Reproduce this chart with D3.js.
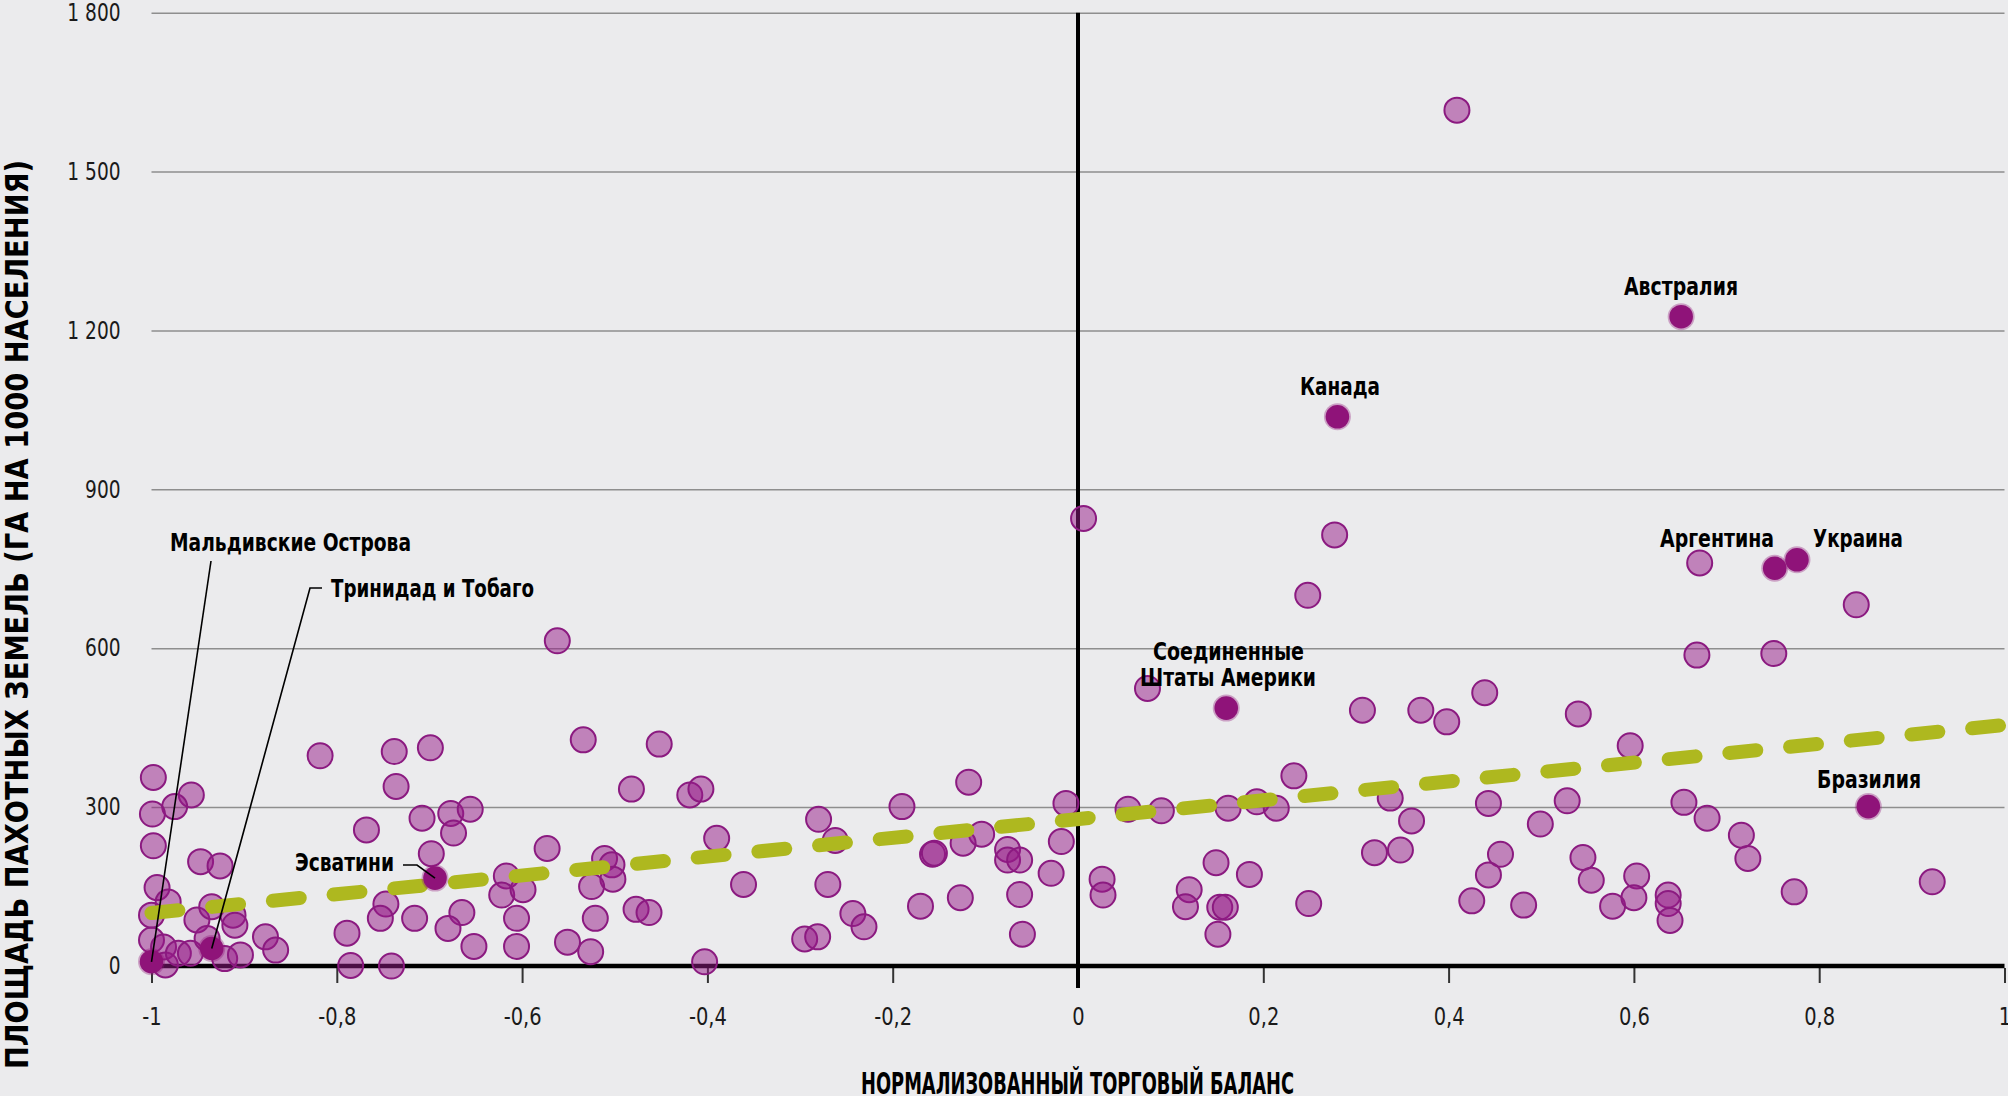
<!DOCTYPE html>
<html>
<head>
<meta charset="utf-8">
<script src="https://cdn.jsdelivr.net/npm/d3@7"></script>
<style>
  html, body { margin: 0; padding: 0; background: #ebebed; }
  svg { display: block; }
</style>
</head>
<body>
<svg id="chart" width="2008" height="1096"></svg>
<script>
// ---- data ----
const xTicks = [-1, -0.8, -0.6, -0.4, -0.2, 0, 0.2, 0.4, 0.6, 0.8, 1];
const yTicks = [0, 300, 600, 900, 1200, 1500, 1800];
const yTickLabels = ["0", "300", "600", "900", "1\u00A0200", "1\u00A0500", "1\u00A0800"];

const pointX = [
  -0.998, -0.957, -0.975, -0.999, -0.998, -0.947, -0.926, -0.994, -0.982, -1.0,
  -0.951, -0.935, -0.912, -0.910, -1.0, -0.987, -0.985, -0.971, -0.958, -0.940,
  -0.921, -0.904, -0.877, -0.866, -0.818, -0.738, -0.699, -0.736, -0.768, -0.708,
  -0.677, -0.656, -0.674, -0.698, -0.617, -0.622, -0.747, -0.753, -0.716, -0.665,
  -0.680, -0.652, -0.789, -0.785, -0.741, -0.562, -0.534, -0.452, -0.482, -0.419,
  -0.407, -0.573, -0.511, -0.503, -0.502, -0.525, -0.599, -0.606, -0.606, -0.521,
  -0.551, -0.526, -0.477, -0.463, -0.390, -0.403, -0.361, -0.280, -0.262, -0.270,
  -0.243, -0.231, -0.295, -0.281, -0.190, -0.118, -0.013, -0.104, -0.124, -0.157,
  -0.155, -0.076, -0.076, -0.063, -0.018, -0.029, -0.063, -0.170, -0.127, -0.060,
  0.054, 0.090, 0.162, 0.193, 0.075, 0.026, 0.027, 0.149, 0.185, 0.120,
  0.116, 0.153, 0.159, 0.151, 0.006, 0.248, 0.307, 0.370, 0.398, 0.439,
  0.540, 0.596, 0.233, 0.214, 0.337, 0.360, 0.320, 0.348, 0.249, 0.443,
  0.499, 0.528, 0.456, 0.443, 0.425, 0.481, 0.545, 0.554, 0.577, 0.603,
  0.600, 0.840, 0.668, 0.751, 0.654, 0.679, 0.716, 0.723, 0.637, 0.637,
  0.639, 0.773, 0.922, 0.409, 0.277, 0.671
];
const pointY = [
  356, 323, 301, 287, 227, 197, 189, 148, 121, 96,
  87, 112, 96, 77, 49, 36, 2, 24, 24, 52,
  14, 21, 55, 30, 397, 405, 412, 339, 257, 279,
  288, 296, 251, 212, 170, 134, 117, 90, 90, 101,
  71, 37, 62, 1, 0, 614, 427, 419, 334, 323,
  334, 222, 203, 191, 164, 150, 144, 90, 37, 90,
  45, 27, 107, 101, 241, 8, 154, 277, 237, 154,
  99, 74, 51, 55, 301, 347, 307, 249, 232, 211,
  213, 220, 200, 200, 235, 175, 135, 113, 129, 60,
  296, 293, 298, 310, 524, 164, 134, 195, 173, 144,
  112, 111, 111, 60, 845, 700, 483, 483, 461, 516,
  476, 416, 359, 298, 317, 274, 214, 219, 118, 307,
  268, 312, 211, 172, 123, 115, 205, 162, 113, 170,
  129, 682, 587, 590, 309, 279, 247, 203, 134, 118,
  86, 140, 159, 1616, 814, 761
];

const countryNames = ["Мальдивские Острова", "Тринидад и Тобаго", "Эсватини",
  "Соединенные Штаты Америки", "Канада", "Австралия", "Аргентина", "Украина", "Бразилия"];
const countryX = [-1.0, -0.935, -0.694, 0.160, 0.280, 0.651, 0.752, 0.776, 0.853];
const countryY = [8, 33, 166, 487, 1037, 1226, 751, 767, 301];

const trendX = [-1, 1];
const trendY = [100, 455];

const xTitle = "НОРМАЛИЗОВАННЫЙ ТОРГОВЫЙ БАЛАНС";
const yTitle = "ПЛОЩАДЬ ПАХОТНЫХ ЗЕМЕЛЬ (ГА НА 1000 НАСЕЛЕНИЯ)";

// ---- drawing ----
const FONT = "'Liberation Sans Narrow', 'DejaVu Sans Condensed', 'Roboto Condensed', 'Arial Narrow', sans-serif";
const svg = d3.select("#chart");
svg.append("rect").attr("width", 2008).attr("height", 1096).attr("fill", "#ebebed");

const x = d3.scaleLinear().domain([-1, 1]).range([151.5, 2004.5]);
const y = d3.scaleLinear().domain([0, 1800]).range([966, 12.7]);

function fit(sel, w) {
  sel.each(function () {
    const n = this.getComputedTextLength();
    if (n > 0) d3.select(this).attr("textLength", w).attr("lengthAdjust", "spacingAndGlyphs");
  });
  return sel;
}
// condense a text by a factor (the reference uses a condensed face)
function condense(sel, k) {
  sel.each(function () {
    const n = this.getComputedTextLength();
    if (n > 0) d3.select(this).attr("textLength", n * k).attr("lengthAdjust", "spacingAndGlyphs");
  });
  return sel;
}

// grid
const grid = svg.append("g").attr("transform", `translate(${x(-1)},0)`)
  .call(d3.axisLeft(y).tickValues(yTicks.filter(d => d > 0)).tickSize(-(x(1) - x(-1))).tickFormat(""));
grid.select(".domain").remove();
grid.selectAll("line").attr("stroke", "#8e8e8e").attr("stroke-width", 1.5);

// y labels
const yAxis = svg.append("g").attr("transform", `translate(${x(-1)},0)`)
  .call(d3.axisLeft(y).tickValues(yTicks).tickSize(0).tickPadding(31)
    .tickFormat((d, i) => yTickLabels[i]));
yAxis.select(".domain").remove();
condense(yAxis.selectAll("text").attr("font-family", FONT).attr("font-size", 24).attr("fill", "#1a1a1a"), 0.86);

// x ticks + labels
const xAxis = svg.append("g").attr("transform", `translate(0,${y(0) + 2})`)
  .call(d3.axisBottom(x).tickValues(xTicks).tickSize(15).tickPadding(25)
    .tickFormat(d => String(+d.toFixed(1)).replace(".", ",")));
xAxis.select(".domain").remove();
xAxis.selectAll("line").attr("stroke", "#333").attr("stroke-width", 2);
condense(xAxis.selectAll("text").attr("font-family", FONT).attr("font-size", 24).attr("fill", "#1a1a1a"), 0.9);

// zero axes
svg.append("line").attr("x1", x(-1)).attr("x2", x(1)).attr("y1", y(0)).attr("y2", y(0))
  .attr("stroke", "#000").attr("stroke-width", 4.5);
svg.append("line").attr("x1", x(0)).attr("x2", x(0)).attr("y1", y(1800)).attr("y2", y(0) + 22)
  .attr("stroke", "#000").attr("stroke-width", 4);

// points
const pts = pointX.map((v, i) => ({ x: v, y: pointY[i] }));
svg.append("g").selectAll("circle").data(pts).join("circle")
  .attr("cx", d => x(d.x)).attr("cy", d => y(d.y)).attr("r", 12.5)
  .attr("fill", "rgba(150,25,135,0.5)").attr("stroke", "#8b1a80").attr("stroke-width", 2);

// trend
svg.append("path")
  .attr("d", d3.line().x(d => x(d[0])).y(d => y(d[1]))(trendX.map((v, i) => [v, trendY[i]])))
  .attr("fill", "none").attr("stroke", "#aeb81f").attr("stroke-width", 14)
  .attr("stroke-linecap", "round").attr("stroke-dasharray", "27 34");

// highlighted
const hl = countryNames.map((n, i) => ({ name: n, x: countryX[i], y: countryY[i] }));
const hg = svg.append("g");
hg.selectAll("circle.halo").data(hl).join("circle").attr("class", "halo")
  .attr("cx", d => x(d.x)).attr("cy", d => y(d.y)).attr("r", 13.5)
  .attr("fill", "rgba(143,19,121,0.35)");
hg.selectAll("circle.core").data(hl).join("circle").attr("class", "core")
  .attr("cx", d => x(d.x)).attr("cy", d => y(d.y)).attr("r", 11.8)
  .attr("fill", "#8f1379");

// leader lines
const lead = svg.append("g").attr("fill", "none").attr("stroke", "#000").attr("stroke-width", 1.6);
lead.append("path").attr("d", `M211,561 L${x(countryX[0])},${y(countryY[0])}`);
lead.append("path").attr("d", `M322,588 L310,588 L${x(countryX[1])},${y(countryY[1])}`);
lead.append("path").attr("d", `M403,865 L417,865 L${x(countryX[2])},${y(countryY[2])}`);

// labels
const lab = svg.append("g").attr("font-family", FONT).attr("font-weight", "bold")
  .attr("font-size", 24).attr("fill", "#000");
fit(lab.append("text").attr("x", 170).attr("y", 551).text(countryNames[0]), 241);
fit(lab.append("text").attr("x", 331).attr("y", 597).text(countryNames[1]), 203);
fit(lab.append("text").attr("x", 295).attr("y", 871).text(countryNames[2]), 99);
fit(lab.append("text").attr("x", 1153).attr("y", 660).text("Соединенные"), 151);
fit(lab.append("text").attr("x", 1140).attr("y", 686).text("Штаты Америки"), 176);
fit(lab.append("text").attr("x", 1300).attr("y", y(countryY[4]) - 22).text(countryNames[4]), 80);
fit(lab.append("text").attr("x", 1624).attr("y", y(countryY[5]) - 22).text(countryNames[5]), 114);
fit(lab.append("text").attr("x", 1660).attr("y", 547).text(countryNames[6]), 114);
fit(lab.append("text").attr("x", 1813).attr("y", 547).text(countryNames[7]), 90);
fit(lab.append("text").attr("x", 1817).attr("y", y(countryY[8]) - 19).text(countryNames[8]), 104);

// titles
fit(svg.append("text").attr("x", 861).attr("y", 1094)
  .attr("font-family", FONT).attr("font-weight", "bold").attr("font-size", 30).attr("fill", "#000")
  .text(xTitle), 433);
fit(svg.append("text").attr("transform", "rotate(-90)").attr("x", -1069).attr("y", 28)
  .attr("font-family", FONT).attr("font-weight", "bold").attr("font-size", 32).attr("fill", "#000")
  .text(yTitle), 909);
</script>
</body>
</html>
